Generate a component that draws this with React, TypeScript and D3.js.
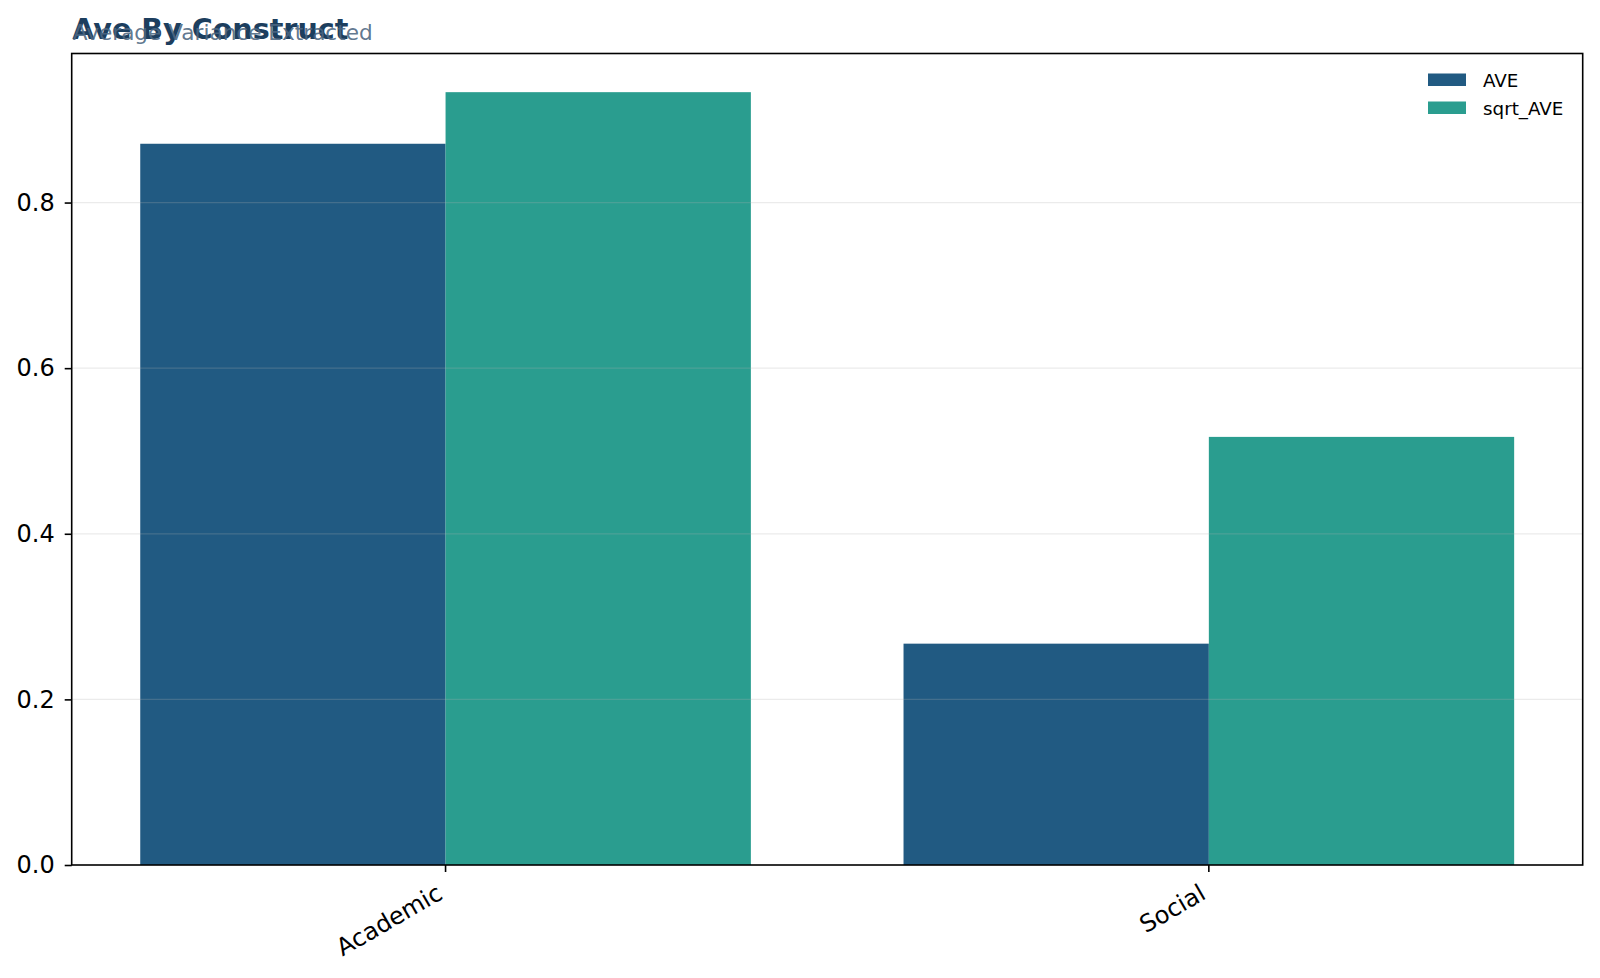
import React, { useEffect, useRef } from "react";
import * as d3 from "d3";

const categories = ["Academic", "Social"];
const seriesNames = ["AVE", "sqrt_AVE"];
const aveValues = [0.871, 0.2673];
const sqrtAveValues = [0.9333, 0.517];
const yTicks = [0.0, 0.2, 0.4, 0.6, 0.8];
const colors = ["#215a82", "#2a9d8f"];
const titleText = "Ave By Construct";
const subtitleText = "Average Variance Extracted";

const W = 1600, H = 978;
const M = { left: 71.7, right: 1582.7, top: 53.5, bottom: 865 };

export default function App() {
  const ref = useRef<SVGSVGElement>(null);
  useEffect(() => {
    const svg = d3.select(ref.current);
    svg.selectAll("*").remove();
    const font = "DejaVu Sans, sans-serif";
    const y = d3.scaleLinear().domain([0, 0.98]).range([M.bottom, M.top]);
    const x = d3.scaleBand<string>().domain(categories).range([M.left, M.right]).paddingInner(0.2).paddingOuter(0.0898);
    const xs = d3.scaleBand<string>().domain(seriesNames).range([0, x.bandwidth()]);

    svg.append("rect").attr("x", 0).attr("y", 0).attr("width", W).attr("height", H).attr("fill", "#fff");

    const series = [aveValues, sqrtAveValues];
    series.forEach((vals, si) => {
      svg.append("g").selectAll("rect").data(categories).join("rect")
        .attr("x", c => (x(c) as number) + (xs(seriesNames[si]) as number))
        .attr("width", xs.bandwidth())
        .attr("y", (c, i) => y(vals[i]))
        .attr("height", (c, i) => y(0) - y(vals[i]))
        .attr("fill", colors[si]);
    });

    // grid (drawn over bars, semi-transparent)
    svg.append("g").selectAll("line").data(yTicks.slice(1)).join("line")
      .attr("x1", M.left).attr("x2", M.right)
      .attr("y1", d => y(d)).attr("y2", d => y(d))
      .attr("stroke", "#b0b0b0").attr("stroke-opacity", 0.25).attr("stroke-width", 1.3);

    // frame
    svg.append("rect").attr("x", M.left).attr("y", M.top)
      .attr("width", M.right - M.left).attr("height", M.bottom - M.top)
      .attr("fill", "none").attr("stroke", "#000").attr("stroke-width", 1.6);

    // y axis
    const yg = svg.append("g").attr("transform", `translate(${M.left},0)`)
      .call(d3.axisLeft(y).tickValues(yTicks).tickFormat(d3.format(".1f")).tickSizeOuter(0).tickSize(7).tickPadding(10));
    yg.select(".domain").remove();
    yg.selectAll("text").attr("font-family", font).attr("font-size", 24).attr("fill", "#000");
    yg.selectAll("line").attr("stroke", "#000").attr("stroke-width", 1.6);

    // x axis
    const xg = svg.append("g").attr("transform", `translate(0,${M.bottom})`)
      .call(d3.axisBottom(x).tickSizeOuter(0).tickSize(7));
    xg.select(".domain").remove();
    xg.selectAll("line").attr("stroke", "#000").attr("stroke-width", 1.6);
    xg.selectAll("text").attr("font-family", font).attr("font-size", 24).attr("fill", "#000")
      .attr("text-anchor", "end").attr("dy", "0").attr("y", 0).attr("x", 0)
      .attr("transform", "translate(-1.5,33) rotate(-30)");

    // title + subtitle (overlapping as in the reference)
    svg.append("text").attr("x", M.left + 0.5).attr("y", 38.5).attr("font-family", font).attr("font-weight", "bold")
      .attr("font-size", 28.6).attr("fill", "#1c3e5e").text(titleText);
    svg.append("text").attr("x", M.left + 1).attr("y", 40).attr("font-family", font)
      .attr("font-size", 21.6).attr("fill", "#4d6782").attr("fill-opacity", 0.9).text(subtitleText);

    // legend
    const lg = svg.append("g");
    seriesNames.forEach((n, i) => {
      lg.append("rect").attr("x", 1428).attr("y", 73.5 + i * 28).attr("width", 38).attr("height", 12.5).attr("fill", colors[i]);
      lg.append("text").attr("x", 1483).attr("y", 86.5 + i * 28).attr("font-family", font).attr("font-size", 18.3)
        .attr("fill", "#000").text(n);
    });
  }, []);
  return <svg ref={ref} width={W} height={H} style={{ display: "block", position: "absolute", left: 0, top: 0 }} />;
}
